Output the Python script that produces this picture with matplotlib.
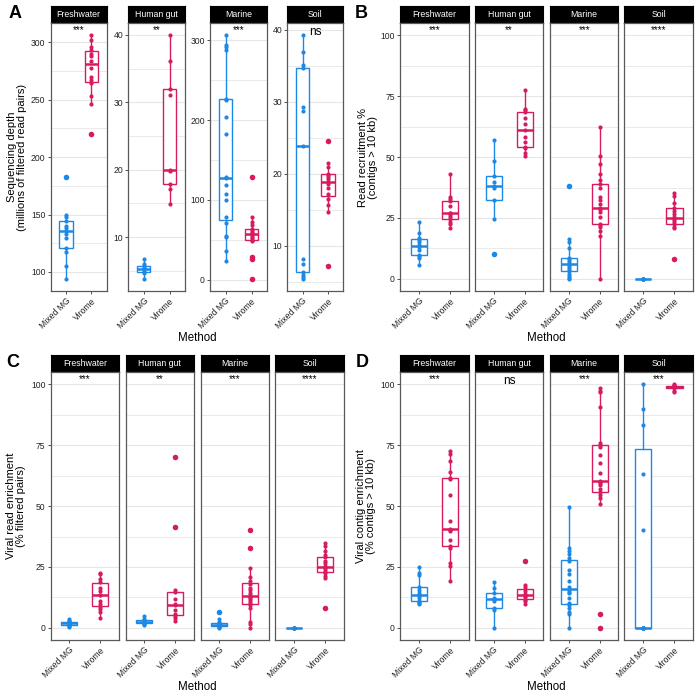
import matplotlib.pyplot as plt
from matplotlib.ticker import MultipleLocator
import numpy as np

plt.rcParams['font.family'] = ['Liberation Sans', 'DejaVu Sans']

habitats = ['Freshwater', 'Human gut', 'Marine', 'Soil']
methods = ['Mixed MG', 'Virome']
colors = ['#1E88E5', '#D81B60']

# A: sequencing depth (millions of filtered read pairs)
depth_fw_mg = [94, 105, 117, 120.5, 130, 133, 135.5, 138, 140, 144, 148, 150, 183]
depth_fw_vir = [220, 246, 253, 265, 267, 270, 278, 284, 288, 290, 293, 296, 302, 306]
depth_hg_mg = [3.8, 4.6, 4.9, 5.2, 5.4, 5.7, 6.0, 6.8]
depth_hg_vir = [14.9, 17.1, 17.8, 19.8, 20.0, 31.0, 32.0, 36.1, 39.9]
depth_mar_mg = [22.8, 35.3, 53, 55, 71.5, 78, 100, 107, 118, 127, 128.8, 183, 203.6,
                225.7, 226, 288, 291, 294, 306]
depth_mar_vir = [1, 26, 28, 49, 50, 52, 54, 56, 57, 58, 60, 62, 64, 68, 72, 78, 128.8]
depth_soil_mg = [5.4, 5.7, 6.0, 6.3, 7.4, 8.1, 23.8, 28.7, 29.3, 34.7, 35.1, 36.9, 39.2]
depth_soil_vir = [7.2, 14.7, 15.6, 16.5, 17.2, 18.0, 18.6, 18.9, 19.2, 19.6, 19.8, 20.0,
                  21.0, 21.5, 24.6]
depth_sig = ['***', '**', '***', 'ns']

# B: read recruitment % (contigs > 10 kb)
recr_fw_mg = [5.7, 8.5, 9.2, 9.8, 12, 13, 14, 15, 16, 16.7, 19, 23.2]
recr_fw_vir = [20.8, 22.5, 23.5, 24.6, 25.5, 26.3, 26.9, 27.2, 30.0, 32.1, 32.8, 33.5, 42.9]
recr_hg_mg = [10.1, 24.5, 32.2, 37.5, 38.3, 39.6, 42.3, 48.4, 57.0]
recr_hg_vir = [50.5, 51.8, 53.8, 54.2, 56.3, 58.3, 61.1, 63.8, 66.1, 68.4, 69.3, 69.9, 77.5]
recr_mar_mg = [0, 0.5, 1.2, 2.0, 3.1, 3.8, 4.5, 5.2, 5.9, 6.5, 7.2, 8.0, 8.6, 12.7, 15.0,
               16.5, 38.1]
recr_mar_vir = [0, 17.4, 19.8, 21.5, 22.2, 22.7, 25.6, 27.5, 28.5, 28.8, 29.2, 30.8, 32.4,
                33.8, 37.5, 38.8, 40.6, 43, 47, 50.5, 62.4]
recr_soil_mg = [0, 0, 0, 0, 0, 0]
recr_soil_vir = [8.2, 20.8, 21.5, 22.5, 23.2, 24.0, 24.9, 25.5, 26.5, 27.7, 29.3, 31.3,
                 34.0, 35.1]
recr_sig = ['***', '**', '***', '****']

# C: viral read enrichment (% filtered pairs)
vread_fw_mg = [0.5, 0.8, 1.0, 1.3, 1.6, 1.9, 2.1, 2.5, 2.7, 3.0, 3.8]
vread_fw_vir = [4.2, 6.3, 7.6, 8.6, 9.7, 11.0, 13.4, 13.4, 15.0, 16.5, 18.8, 19.9, 22.0, 22.6]
vread_hg_mg = [1.0, 1.5, 1.8, 2.1, 2.3, 2.6, 3.1, 3.6, 4.9]
vread_hg_vir = [2.9, 4.2, 4.9, 5.5, 7.5, 9.2, 9.6, 12.0, 14.7, 15.5, 41.5, 70.4]
vread_mar_mg = [0, 0.3, 0.5, 0.7, 1.0, 1.2, 1.3, 1.5, 1.8, 2.2, 3.5, 6.5]
vread_mar_vir = [0, 1.5, 2.2, 8.3, 9.5, 10.0, 11.0, 12.0, 12.5, 12.8, 13.5, 14.5, 15.5,
                 16.5, 18.0, 19.2, 20.9, 24.7, 32.7, 40.4]
vread_soil_mg = [0, 0, 0, 0, 0]
vread_soil_vir = [8.3, 20.5, 21.5, 22.4, 23.0, 23.8, 24.5, 24.9, 25.5, 26.5, 27.5, 29.1,
                  29.8, 31.5, 33.6, 34.7]
vread_sig = ['***', '**', '***', '****']

# D: viral contig enrichment (% contigs > 10 kb)
vcont_fw_mg = [9.8, 10.3, 10.8, 11.2, 12.2, 13.0, 13.6, 14.5, 15.5, 16.8, 21.8, 22.5, 25.1]
vcont_fw_vir = [19.4, 25.5, 26.6, 33.0, 33.7, 36.2, 39.8, 40.2, 40.5, 43.7, 54.6, 61.0,
                61.7, 64.1, 68.5, 71.6, 72.6]
vcont_hg_mg = [0, 7.5, 8.2, 11.2, 11.9, 12.3, 14.3, 16.4, 18.8]
vcont_hg_vir = [9.8, 11.0, 11.6, 12.5, 13.0, 13.4, 14.0, 15.3, 16.8, 17.5, 27.3]
vcont_mar_mg = [0, 5.5, 6.3, 8.0, 9.5, 10.1, 12.4, 14.3, 14.9, 15.5, 16.8, 19.2, 22.0,
                23.6, 27.4, 28.8, 30.2, 31.5, 32.9, 49.7]
vcont_mar_vir = [0, 5.6, 50.9, 53.5, 54.5, 55.7, 57.0, 58.5, 59.5, 60.0, 60.4, 63.6, 67.7,
                 71.1, 74.5, 75.0, 76.1, 90.6, 97.0, 97.5, 98.4]
vcont_soil_mg = [0, 0, 0, 0, 0, 0, 40.0, 63.3, 83.4, 89.9, 100.0]
vcont_soil_vir = [97.0, 97.5, 98.4, 98.8, 99.0, 99.2, 99.5, 99.8, 100.0]
vcont_sig = ['***', 'ns', '***', '***']

W, H = 700, 696
fig = plt.figure(figsize=(W / 100, H / 100), dpi=100)

BORDER = '#595959'
GRID = '#E6E6E6'


def rect(x0, x1, y0, y1):
    return [x0 / W, 1 - y1 / H, (x1 - x0) / W, (y1 - y0) / H]


def draw_panel(letter, letter_xy, facet_x, strip_y, axes_y, groups, sigs, ylabel,
               ylabel_x, shared, steps):
    for i, (hab, (mg, vir)) in enumerate(zip(habitats, groups)):
        x0, x1 = facet_x[i]
        # strip
        sax = fig.add_axes(rect(x0, x1, strip_y[0], strip_y[1]))
        sax.set_facecolor('black')
        sax.set_xticks([])
        sax.set_yticks([])
        for s in sax.spines.values():
            s.set_color('black')
        sax.text(0.5, 0.5, hab, color='white', fontsize=6.3, ha='center', va='center',
                 transform=sax.transAxes)

        ax = fig.add_axes(rect(x0, x1, axes_y[0], axes_y[1]))
        ax.set_axisbelow(True)
        for j, vals in enumerate([mg, vir]):
            c = colors[j]
            ax.boxplot([vals], positions=[j + 1], widths=0.52, showcaps=False,
                       patch_artist=True, manage_ticks=False,
                       boxprops=dict(facecolor='white', edgecolor=c, linewidth=1.0),
                       whiskerprops=dict(color=c, linewidth=1.0),
                       medianprops=dict(color=c, linewidth=1.8),
                       flierprops=dict(marker='o', markerfacecolor=c,
                                       markeredgecolor='none', markersize=4.0),
                       zorder=2)
            ax.scatter(np.full(len(vals), j + 1), vals, s=9, color=c, linewidths=0,
                       zorder=3)
        ax.set_xlim(0.4, 2.6)
        if shared:
            ax.set_ylim(-5, 105)
            step = 25
        else:
            allv = mg + vir
            lo, hi = min(allv), max(allv)
            pad = 0.05 * (hi - lo)
            ax.set_ylim(lo - pad, hi + pad)
            step = steps[i]
        ax.yaxis.set_major_locator(MultipleLocator(step))
        ax.yaxis.set_minor_locator(MultipleLocator(step / 2))
        ax.grid(True, axis='y', which='major', color=GRID, linewidth=0.8)
        ax.grid(True, axis='y', which='minor', color=GRID, linewidth=0.6)
        ax.tick_params(axis='y', which='minor', left=False)
        ax.tick_params(axis='both', which='major', length=2.2, width=0.6, color='#333333',
                       labelsize=6.2, labelcolor='#222222', pad=1.5)
        ax.set_xticks([1, 2])
        ax.set_xticklabels(methods, rotation=45, ha='right', va='top',
                           rotation_mode='anchor')
        if shared and i > 0:
            ax.tick_params(axis='y', left=False, labelleft=False)
        for s in ax.spines.values():
            s.set_color(BORDER)
            s.set_linewidth(0.9)
        sig = sigs[i]
        if sig == 'ns':
            ax.text(0.5, 1 - 8.5 / (axes_y[1] - axes_y[0]), sig, fontsize=8.5,
                    ha='center', va='center', transform=ax.transAxes)
        else:
            ax.text(0.5, 1 - 6.5 / (axes_y[1] - axes_y[0]), sig, fontsize=7,
                    ha='center', va='center', transform=ax.transAxes)

    fig.text(letter_xy[0] / W, 1 - letter_xy[1] / H, letter, fontsize=13,
             fontweight='bold', ha='center', va='center')
    ymid = (axes_y[0] + axes_y[1]) / 2
    fig.text(ylabel_x / W, 1 - ymid / H, ylabel, rotation=90, fontsize=8,
             ha='center', va='center', multialignment='center', linespacing=1.05)
    xmid = (facet_x[0][0] + facet_x[-1][1]) / 2
    fig.text(xmid / W, 1 - (axes_y[1] + 47) / H, 'Method', fontsize=8.3,
             ha='center', va='center')


top_strip = (5.7, 23.3)
top_axes = (23.3, 291)
bot_strip = (355, 372.3)
bot_axes = (372.3, 640)

facets_A = [(50.7, 106.7), (128.3, 185), (210, 267.3), (287.3, 343.3)]
facets_B = [(400, 469), (475, 543.3), (550, 618.3), (624.3, 693.3)]
facets_C = [(50.7, 119), (125.7, 194), (200.7, 269), (275.3, 343.7)]
facets_D = facets_B

draw_panel('A', (15, 13), facets_A, top_strip, top_axes,
           [(depth_fw_mg, depth_fw_vir), (depth_hg_mg, depth_hg_vir),
            (depth_mar_mg, depth_mar_vir), (depth_soil_mg, depth_soil_vir)],
           depth_sig, 'Sequencing depth\n(millions of filtered read pairs)', 17,
           False, [50, 10, 100, 10])
draw_panel('B', (361, 13), facets_B, top_strip, top_axes,
           [(recr_fw_mg, recr_fw_vir), (recr_hg_mg, recr_hg_vir),
            (recr_mar_mg, recr_mar_vir), (recr_soil_mg, recr_soil_vir)],
           recr_sig, 'Read recruitment %\n(contigs > 10 kb)', 368, True, None)
draw_panel('C', (13, 362.5), facets_C, bot_strip, bot_axes,
           [(vread_fw_mg, vread_fw_vir), (vread_hg_mg, vread_hg_vir),
            (vread_mar_mg, vread_mar_vir), (vread_soil_mg, vread_soil_vir)],
           vread_sig, 'Viral read enrichment\n(% filtered pairs)', 16, True, None)
draw_panel('D', (362.5, 362.5), facets_D, bot_strip, bot_axes,
           [(vcont_fw_mg, vcont_fw_vir), (vcont_hg_mg, vcont_hg_vir),
            (vcont_mar_mg, vcont_mar_vir), (vcont_soil_mg, vcont_soil_vir)],
           vcont_sig, 'Viral contig enrichment\n(% contigs > 10 kb)', 366, True, None)

fig.savefig('out.png', dpi=100)
